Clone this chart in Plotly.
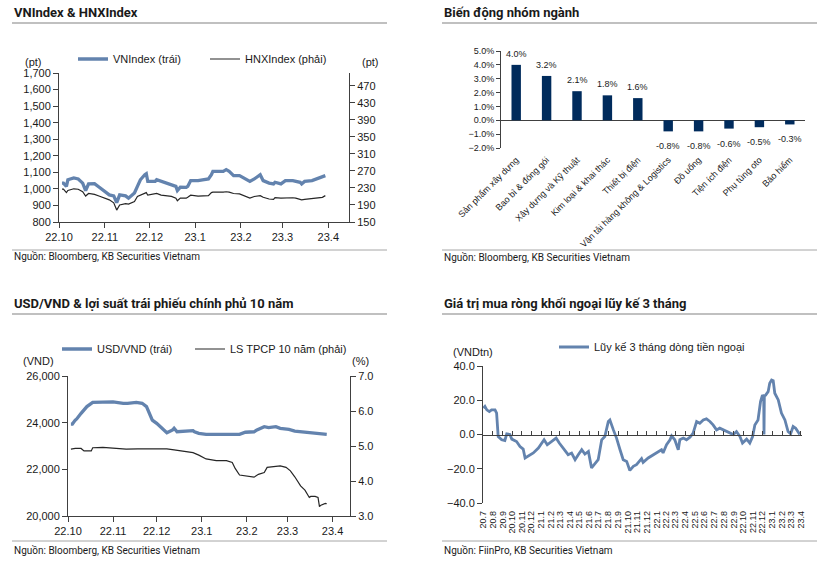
import plotly.graph_objects as go

# ---------------- data ----------------
# Panel 1: VNIndex & HNXIndex
idx_dates = ["2022-10-03","2022-10-04","2022-10-06","2022-10-07","2022-10-11","2022-10-14","2022-10-17","2022-10-19","2022-10-21","2022-10-25",
             "2022-10-28","2022-11-01","2022-11-04","2022-11-07","2022-11-09","2022-11-11","2022-11-15","2022-11-17","2022-11-21","2022-11-23",
             "2022-11-25","2022-11-28","2022-11-29","2022-11-30","2022-12-05","2022-12-06","2022-12-09","2022-12-13","2022-12-16","2022-12-19",
             "2022-12-20","2022-12-22","2022-12-26","2022-12-27","2022-12-29","2023-01-03","2023-01-06","2023-01-10","2023-01-12","2023-01-13",
             "2023-01-20","2023-01-22","2023-01-24","2023-01-27","2023-01-31","2023-02-03","2023-02-07","2023-02-10","2023-02-14","2023-02-16",
             "2023-02-20","2023-02-23","2023-02-24","2023-02-28","2023-03-03","2023-03-08","2023-03-10","2023-03-13","2023-03-14","2023-03-16",
             "2023-03-21","2023-03-24","2023-03-28","2023-03-30"]
vnindex = [1035,1035,1015,1055,1066,1060,1035,990,1030,1032,
           1011,984,964,958,917,964,958,944,975,1015,
           1055,1086,1092,1045,1045,1055,1045,1035,1025,1015,
           990,1011,1009,1015,1050,1050,1055,1060,1086,1106,
           1106,1116,1106,1080,1080,1066,1045,1060,1086,1050,
           1035,1030,1040,1030,1050,1050,1045,1040,1030,1045,
           1050,1060,1075,1080]
hnxindex = [227,227,219,224,228,227,221,211,217,215,
            211,206,202,195,178,190,193,192,198,210,
            213,216,219,213,216,217,213,212,210,206,
            200,206,206,208,213,211,212,212,219,220,
            220,221,220,217,216,212,206,210,212,208,
            204,203,207,206,207,207,206,204,202,203,
            205,206,208,212]
idx_ticklabels = ["22.10","22.11","22.12","23.1","23.2","23.3","23.4"]
idx_tickdates = ["2022-10-01","2022-11-01","2022-12-01","2023-01-01","2023-02-01","2023-03-01","2023-04-01"]

# Panel 2: sector performance
sector_names = ["Sản phẩm xây dựng","Bao bì & đóng gói","Xây dựng và Kỹ thuật","Kim loại & khai thác","Thiết bị điện",
                "Vận tải hàng không & Logistics","Đồ uống","Tiện ích điện","Phụ tùng oto","Bảo hiểm"]
sector_change = [4.0,3.2,2.1,1.8,1.6,-0.8,-0.8,-0.6,-0.5,-0.3]

# Panel 3: USD/VND & 10Y government bond yield
fx_dates = ["2022-10-03","2022-10-04","2022-10-06","2022-10-07","2022-10-10","2022-10-12","2022-10-14","2022-10-18","2022-10-25","2022-11-01",
            "2022-11-08","2022-11-11","2022-11-17","2022-11-21","2022-11-24","2022-11-25","2022-11-28","2022-12-01","2022-12-05","2022-12-08",
            "2022-12-12","2022-12-13","2022-12-15","2022-12-20","2022-12-26","2022-12-27","2022-12-30","2023-01-04","2023-01-13","2023-01-20",
            "2023-01-27","2023-01-31","2023-02-06","2023-02-08","2023-02-13","2023-02-16","2023-02-21","2023-02-24","2023-03-02","2023-03-06",
            "2023-03-10","2023-03-17","2023-03-22","2023-03-28"]
usdvnd = [23940,23940,24110,24160,24400,24540,24690,24870,24870,24890,
          24830,24830,24870,24830,24690,24540,24110,23970,23760,23570,
          23690,23760,23610,23640,23660,23610,23540,23500,23490,23490,
          23500,23590,23610,23690,23830,23790,23830,23760,23710,23640,
          23610,23570,23510,23500]
bond_dates = ["2022-10-03","2022-10-06","2022-10-10","2022-10-12","2022-10-17","2022-10-18","2022-10-25","2022-11-01","2022-11-10","2022-11-18",
              "2022-12-01","2022-12-08","2022-12-13","2022-12-19","2022-12-26","2022-12-30","2023-01-04","2023-01-11","2023-01-18","2023-01-22",
              "2023-01-24","2023-01-27","2023-02-01","2023-02-06","2023-02-09","2023-02-13","2023-02-15","2023-02-20","2023-02-24","2023-02-28",
              "2023-03-03","2023-03-06","2023-03-08","2023-03-10","2023-03-13","2023-03-16","2023-03-17","2023-03-20","2023-03-22","2023-03-23",
              "2023-03-24","2023-03-27","2023-03-28"]
bond_yield = [4.91,4.93,4.93,4.86,4.86,4.95,4.96,4.93,4.91,4.92,
              4.93,4.92,4.89,4.86,4.81,4.74,4.63,4.58,4.58,4.53,
              4.36,4.17,4.14,4.11,4.19,4.24,4.39,4.41,4.43,4.39,
              4.29,4.12,3.98,3.86,3.74,3.53,3.56,3.56,3.53,3.27,
              3.31,3.36,3.35]

# Panel 4: 3-month cumulative foreign net buying (VND trn)
flow_dates = ["2020-07-02","2020-07-07","2020-07-13","2020-07-21","2020-07-28","2020-08-08","2020-08-13","2020-08-18","2020-08-29","2020-09-08",
              "2020-09-14","2020-09-24","2020-09-30","2020-10-15","2020-10-26","2020-11-05","2020-11-11","2020-11-21","2020-12-07","2020-12-23",
              "2021-01-02","2021-01-10","2021-01-20","2021-02-03","2021-02-17","2021-02-27","2021-03-12","2021-03-27","2021-04-07","2021-04-18",
              "2021-04-28","2021-05-09","2021-05-19","2021-05-30","2021-06-09","2021-06-20","2021-06-30","2021-07-11","2021-07-21","2021-08-01",
              "2021-08-06","2021-08-17","2021-08-27","2021-09-07","2021-09-17","2021-09-28","2021-10-08","2021-10-19","2021-10-29","2021-11-14",
              "2021-11-19","2021-12-05","2021-12-21","2022-01-06","2022-01-16","2022-01-21","2022-02-01","2022-02-12","2022-02-17","2022-02-27",
              "2022-03-10","2022-03-15","2022-03-26","2022-04-05","2022-04-16","2022-04-26","2022-05-07","2022-05-17","2022-05-28","2022-06-07",
              "2022-06-18","2022-06-28","2022-07-09","2022-07-19","2022-07-30","2022-08-15","2022-08-31","2022-09-10","2022-09-21","2022-09-29",
              "2022-10-12","2022-10-22","2022-10-31","2022-11-07","2022-11-17","2022-11-25","2022-12-01","2022-12-05","2022-12-06","2022-12-07",
              "2022-12-11","2022-12-19","2022-12-24","2022-12-30","2023-01-04","2023-01-09","2023-01-20","2023-01-30","2023-02-10","2023-02-20",
              "2023-02-28","2023-03-08","2023-03-16","2023-03-24","2023-03-29"]
flow_3m = [15.4,16.4,14.4,13.4,14.4,14.4,12.5,-1.2,-3.1,-3.5,
           0.4,0.0,-2.7,-4.1,-7.0,-8.5,-13.7,-12.4,-10.8,-7.9,
           -5.0,-3.1,-6.0,-4.1,-2.1,-5.0,-8.5,-11.8,-10.8,-14.7,
           -11.8,-8.9,-11.4,-9.9,-19.5,-17.0,-14.7,-3.1,-1.2,7.6,
           8.5,2.7,-2.1,-8.9,-14.7,-15.7,-21.0,-18.6,-17.6,-14.1,
           -16.3,-13.7,-11.8,-9.9,-8.9,-10.8,-6.0,-3.1,-0.8,-3.1,
           -8.9,-3.1,-2.1,-3.1,-1.6,0.8,7.6,6.6,8.5,9.1,
           7.6,5.6,2.7,3.7,2.7,1.7,0.0,1.7,-1.2,-5.0,
           -2.7,-5.0,-1.2,5.6,8.5,19.2,23.0,22.1,0.0,22.5,
           23.0,25.0,29.9,31.8,31.4,24.1,20.2,12.5,8.5,1.7,
           0.4,4.7,3.7,1.7,0.0]
flow_ticklabels = ["20.7","20.8","20.9","20.10","20.11","20.12",
                   "21.1","21.2","21.3","21.4","21.5","21.6","21.7","21.8","21.9","21.10","21.11","21.12",
                   "22.1","22.2","22.3","22.4","22.5","22.6","22.7","22.8","22.9","22.10","22.11","22.12",
                   "23.1","23.2","23.3","23.4"]
flow_tickdates = ["20%s-%02d-01" % (t.split(".")[0], int(t.split(".")[1])) for t in flow_ticklabels]

# ---------------- style ----------------
W, H = 819, 562
BLUE = "#6383AE"
NAVY = "#002B5C"
DARK = "#262626"
AXC = "#404040"
NUM = "Liberation Sans, Arial, sans-serif"
TXT = "Roboto, Arial, sans-serif"

def px(v): return v / W
def py(v): return 1 - v / H

fig = go.Figure()

fig.add_trace(go.Scatter(x=idx_dates, y=vnindex, name="VNIndex (trái)", mode="lines",
                         line=dict(color=BLUE, width=3.3), xaxis="x", yaxis="y", legend="legend"))
fig.add_trace(go.Scatter(x=idx_dates, y=hnxindex, name="HNXIndex (phải)", mode="lines",
                         line=dict(color=DARK, width=1.2), xaxis="x", yaxis="y2", legend="legend2"))

fig.add_trace(go.Bar(x=sector_names, y=sector_change, marker=dict(color=NAVY), width=0.31,
                     showlegend=False, xaxis="x2", yaxis="y3"))

fig.add_trace(go.Scatter(x=fx_dates, y=usdvnd, name="USD/VND (trái)", mode="lines",
                         line=dict(color=BLUE, width=3.3), xaxis="x3", yaxis="y4", legend="legend3"))
fig.add_trace(go.Scatter(x=bond_dates, y=bond_yield, name="LS TPCP 10 năm (phải)", mode="lines",
                         line=dict(color=DARK, width=1.2), xaxis="x3", yaxis="y5", legend="legend4"))

fig.add_trace(go.Scatter(x=flow_dates, y=flow_3m, name="Lũy kế 3 tháng dòng tiền ngoại", mode="lines",
                         line=dict(color=BLUE, width=2.8), xaxis="x4", yaxis="y6", legend="legend5"))

numfont = dict(family=NUM, size=11, color="#1a1a1a")
common = dict(showgrid=False, zeroline=False, showline=True, linecolor=AXC, linewidth=1,
              ticks="outside", ticklen=5, tickcolor=AXC, tickfont=numfont, automargin=False)

y6dom = [py(503), py(366)]
zero_pos = y6dom[0] + (0 - (-40)) / 80 * (y6dom[1] - y6dom[0])

def leg(x, y):
    return dict(orientation="h", x=px(x), y=py(y), xanchor="left", yanchor="middle",
                bgcolor="rgba(0,0,0,0)", borderwidth=0,
                font=dict(family=NUM, size=11, color="#1a1a1a"))

fig.update_layout(
    template="none",
    width=W, height=H, margin=dict(l=0, r=0, t=0, b=0, autoexpand=False),
    paper_bgcolor="white", plot_bgcolor="white",
    xaxis=dict(domain=[px(59), px(349)], anchor="y", type="date",
               range=["2022-10-01", "2023-04-15"], tickvals=idx_tickdates, ticktext=idx_ticklabels, **common),
    yaxis=dict(domain=[py(222), py(73)], anchor="x", range=[800, 1700], dtick=100,
               tickformat=",d", **common),
    yaxis2=dict(overlaying="y", side="right", anchor="x", range=[150, 500],
                tickvals=[150,190,230,270,310,350,390,430,470], **common),
    xaxis2=dict(domain=[px(501), px(805)], anchor="y3", type="category", showgrid=False, zeroline=False,
                showline=False, ticks="", tickangle=-45, automargin=False, ticklabelstandoff=4,
                tickfont=dict(family=NUM, size=9, color="#1a1a1a")),
    yaxis3=dict(domain=[py(148), py(51)], anchor="x2", range=[-2, 5], dtick=1, ticksuffix="%",
                tickformat=".1f", showgrid=False, zeroline=True, zerolinecolor=AXC, zerolinewidth=1,
                showline=True, linecolor=AXC, ticks="outside", ticklen=4, tickcolor=AXC, automargin=False,
                tickfont=dict(family=NUM, size=9, color="#1a1a1a")),
    xaxis3=dict(domain=[px(68), px(350)], anchor="y4", type="date",
                range=["2022-10-01", "2023-04-13"], tickvals=idx_tickdates, ticktext=idx_ticklabels, **common),
    yaxis4=dict(domain=[py(516), py(376)], anchor="x3", range=[20000, 26000], dtick=2000,
                tickformat=",d", **common),
    yaxis5=dict(overlaying="y4", side="right", anchor="x3", range=[3, 7], dtick=1, tickformat=".1f", **common),
    xaxis4=dict(domain=[px(483), px(802)], anchor="free", position=zero_pos, type="date",
                range=["2020-07-01", "2023-04-05"], tickvals=flow_tickdates, ticktext=flow_ticklabels,
                tickangle=-90, showgrid=False, zeroline=False, showline=True, linecolor=AXC,
                ticks="inside", ticklen=4, tickcolor=AXC, ticklabelstandoff=72, automargin=False,
                tickfont=dict(family=NUM, size=9, color="#1a1a1a")),
    yaxis6=dict(domain=y6dom, anchor="x4", range=[-40, 40], dtick=20, tickformat=".1f", **common),
    bargap=0.69,
    legend=leg(73, 59),
    legend2=leg(205, 59),
    legend3=leg(57, 349),
    legend4=leg(190, 349),
    legend5=leg(554, 347),
)

ann = []
def text(x, y, s, size=11, bold=False, family=NUM, xanchor="left", color="#1a1a1a"):
    ann.append(dict(xref="paper", yref="paper", x=px(x), y=py(y), text=("<b>%s</b>" % s) if bold else s,
                    showarrow=False, xanchor=xanchor, yanchor="middle",
                    font=dict(family=family, size=size, color=color)))

text(12, 12, "VNIndex & HNXIndex", 13, True, TXT)
text(442, 12, "Biến động nhóm ngành", 13, True, TXT)
text(12, 303, "USD/VND & lợi suất trái phiếu chính phủ 10 năm", 13, True, TXT)
text(442, 303, "Giá trị mua ròng khối ngoại lũy kế 3 tháng", 13, True, TXT)
text(12, 256, "Nguồn: Bloomberg, KB Securities Vietnam", 10, False, TXT)
text(442, 257, "Nguồn: Bloomberg, KB Securities Vietnam", 10, False, TXT)
text(12, 550, "Nguồn: Bloomberg, KB Securities Vietnam", 10, False, TXT)
text(442, 550, "Nguồn: FiinPro, KB Securities Vietnam", 10, False, TXT)
text(33, 62, "(pt)", 11, xanchor="center")
text(370, 62, "(pt)", 11, xanchor="center")
text(38, 361, "(VND)", 11, xanchor="center")
text(360, 361, "(%)", 11, xanchor="center")
text(473, 352, "(VNDtn)", 11, xanchor="center")

for name, val in zip(sector_names, sector_change):
    ann.append(dict(xref="x2", yref="y3", x=name, y=val, text="%.1f%%" % val, showarrow=False,
                    xanchor="center", yanchor="middle", yshift=11 if val >= 0 else -15,
                    font=dict(family=NUM, size=9, color="#1a1a1a")))

fig.update_layout(annotations=ann)

shapes = []
for (x0, x1, y) in [(12, 387, 23), (442, 817, 23), (12, 387, 314), (442, 817, 314)]:
    shapes.append(dict(type="line", xref="paper", yref="paper", x0=px(x0), x1=px(x1), y0=py(y), y1=py(y),
                       line=dict(color="#C0C0C0", width=2)))
for (x0, x1, y) in [(12, 387, 250), (442, 817, 250), (12, 387, 541), (442, 817, 541)]:
    shapes.append(dict(type="line", xref="paper", yref="paper", x0=px(x0), x1=px(x1), y0=py(y), y1=py(y),
                       line=dict(color="#A6A6A6", width=1)))
fig.update_layout(shapes=shapes)

fig.write_html("out.html", config={"displayModeBar": False},
               post_script="document.body.style.margin='0px';document.body.style.overflow='hidden';")
